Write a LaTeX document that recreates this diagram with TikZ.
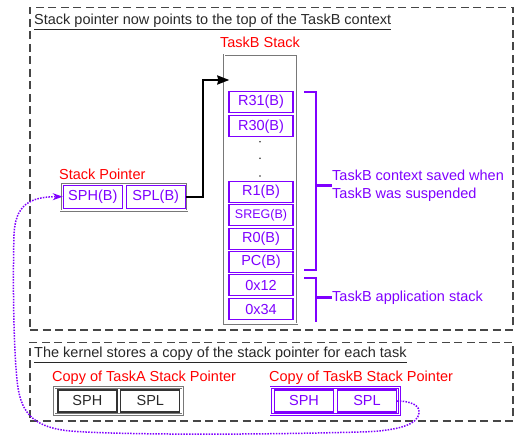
\documentclass[tikz,border=0pt]{standalone}
\usepackage{fontspec}
\setmainfont{Liberation Sans}
\usetikzlibrary{arrows.meta,calc}
\definecolor{ctxpurple}{RGB}{127,  0, 255}
\definecolor{lblred}   {RGB}{255,  0,   0}
\definecolor{areagray} {RGB}{ 70, 70,  70}
\definecolor{boxgray}  {RGB}{120,120, 120}
\definecolor{txtgray}  {RGB}{ 40, 40,  40}

\begin{document}
\begin{tikzpicture}[x=1pt,y=-1pt,
  every node/.style={font=\fontsize{14.5}{18}\selectfont,inner sep=0pt,text=txtgray},
  area/.style={draw=areagray,line width=1.4pt,dash pattern=on 8pt off 4.5pt},
  dframe/.style={draw=boxgray,line width=0.6pt,double=white,double distance=1pt},
  pframe/.style={dframe,draw=ctxpurple},
  cell/.style={draw=ctxpurple,line width=1.2pt,text=ctxpurple,fill=white,
               minimum width=64pt,minimum height=21pt},
  spcell/.style={cell,minimum width=59pt,minimum height=23pt},
  kcell/.style={draw=black!80,line width=1.2pt,minimum width=59pt,minimum height=22pt},
  lbl/.style={text=lblred,anchor=base west},
  heading/.style={anchor=base west},
  ctxbrace/.style={draw=ctxpurple,line width=2.5pt},
  arr/.style={-{Stealth[length=12pt,width=9pt,inset=1pt]},line width=2pt},
  link/.style={-{Stealth[length=10pt,width=7pt]},draw=ctxpurple,line width=1.5pt,
               dash pattern=on 1.5pt off 1.3pt},
]
\useasboundingbox (0,0) rectangle (531,438);

%% ── Upper area: current stack pointer and TaskB stack ──────────────────
\node[area,minimum width=483pt,minimum height=322.5pt] (toparea) at (271.5,168.75) {};
\node[heading] (toptitle) at (34,24.5) {\underline{Stack pointer now points to the top of the TaskB context}};

\node[text=lblred,anchor=base] (stklbl) at (260,47.5) {TaskB Stack};
\node[dframe,minimum width=73pt,minimum height=269pt] (stk) at (260.5,189.5) {};
\node[cell] (R31)  at (261,102.2) {R31(B)};
\node[cell] (R30)  at (261,126.3) {R30(B)};
\node[cell] (R1)   at (261,192.2) {R1(B)};
\node[cell,font=\fontsize{12.5}{14}\selectfont] (SREG) at (261,215.1) {SREG(B)};
\node[cell] (R0)   at (261,238.8) {R0(B)};
\node[cell] (PC)   at (261,261.7) {PC(B)};
\node[cell] (V12)  at (261,285.3) {0x12};
\node[cell] (V34)  at (261,309.3) {0x34};
\fill[black!80] (260,141.7) circle (0.9pt) (260,158.3) circle (0.9pt) (260,176) circle (0.9pt);

%% context / application brackets
\draw[ctxbrace] (304,92) -| (316,270) -- (304,270);
\node[text=ctxpurple,anchor=west,align=left] (ctxtxt) at (332,185.7)
  {TaskB context saved when\\TaskB was suspended};
\draw[ctxbrace] (316,185.7) -- (ctxtxt.west);
\draw[ctxbrace] (304,278) -| (316,321.7);
\node[text=ctxpurple,anchor=west] (apptxt) at (332,297.7) {TaskB application stack};
\draw[ctxbrace] (316,297.7) -- (apptxt.west);

%% stack pointer register
\node[lbl] (splbl) at (59,180) {Stack Pointer};
\node[dframe,minimum width=126.6pt,minimum height=28pt] (sp) at (124,196.7) {};
\node[spcell] (SPHB) at (92.8,196.7) {SPH(B)};
\node[spcell] (SPLB) at (155.7,196.7) {SPL(B)};
\coordinate (stktop) at (229.3,80);
\draw[arr] (SPLB.east) -- ++(17.5,0) |- (stktop);

%% ── Lower area: kernel copies of the stack pointers ────────────────────
\node[area,minimum width=483pt,minimum height=78.5pt] (kernarea) at (271.5,381.75) {};
\node[heading] (kerntitle) at (34,358) {\underline{The kernel stores a copy of the stack pointer for each task}};

\node[lbl] (cpAlbl) at (52,381.5) {Copy of TaskA Stack Pointer};
\node[dframe,minimum width=128.8pt,minimum height=27pt] (cpA) at (118.4,401) {};
\node[kcell] (ASPH) at (87.4,401) {SPH};
\node[kcell] (ASPL) at (150.3,401) {SPL};

\node[lbl] (cpBlbl) at (269,381.5) {Copy of TaskB Stack Pointer};
\node[pframe,minimum width=128.8pt,minimum height=27pt] (cpB) at (335,401) {};
\node[spcell,minimum height=22pt] (BSPH) at (304,401) {SPH};
\node[spcell,minimum height=22pt] (BSPL) at (367,401) {SPL};

%% restore link from the TaskB copy to the stack pointer
\draw[link] (BSPL.east) .. controls (412,401) and (420,406) .. (419,413)
  .. controls (418,424) and (400,431) .. (360,432)
  .. controls (250,435) and (120,435) .. (70,431)
  .. controls (30,427) and (20,410) .. (17,380)
  .. controls (13,340) and (13,270) .. (14,235)
  .. controls (15,205) and (30,196.7) .. (SPHB.west);

\end{tikzpicture}
\end{document}
